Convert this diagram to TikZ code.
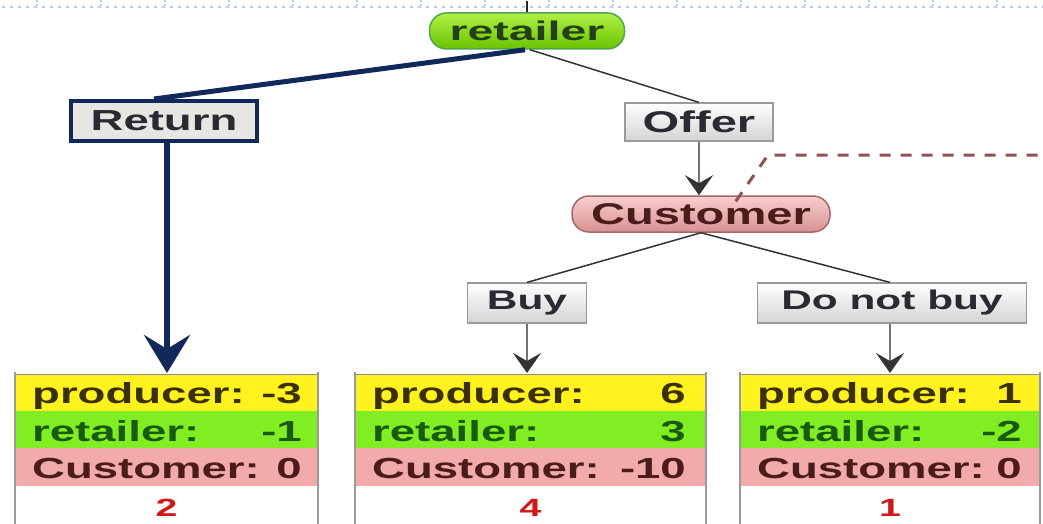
\documentclass[tikz,border=0pt]{standalone}
\usepackage{fontspec}
\usetikzlibrary{arrows.meta,calc}
\newfontfamily\wf[FakeStretch=1.57]{Liberation Sans}
\newfontfamily\wg[FakeStretch=1.72]{Liberation Sans}
\definecolor{navy}{HTML}{10295A}
\definecolor{ylw}{HTML}{FFF21E}
\definecolor{grn}{HTML}{80EE22}
\definecolor{pnk}{HTML}{F2AAAA}
\definecolor{ptxt}{HTML}{3B3000}
\definecolor{rtxt}{HTML}{185A10}
\definecolor{ctxt}{HTML}{4A1C1C}
\definecolor{numred}{HTML}{D01818}
\definecolor{boxbd}{HTML}{9A9A9A}
\definecolor{dotc}{HTML}{B8C8F0}
\definecolor{dashc}{HTML}{8E5252}
\definecolor{lbltxt}{HTML}{2A2A32}
\tikzset{
  lbl/.style={inner sep=0pt, font=\wf\bfseries\fontsize{29}{32}\selectfont},
  num/.style={inner sep=0pt, text=numred, font=\wf\bfseries\fontsize{25}{28}\selectfont},
  actbox/.style={draw=boxbd, line width=1.2pt, top color=white, bottom color=black!17,
    inner sep=0pt, text=lbltxt},
  pill/.style={rounded corners=17pt, line width=1.5pt, inner sep=0pt},
  thin/.style={draw=black!80, line width=1.5pt},
  garrow/.style={draw=black!55, line width=2.5pt,
    -{Stealth[length=20pt,width=28pt,inset=8pt,color=black!80]}},
}
\newcommand\payoff[8]{%
  \fill[ylw] (#2,374) rectangle (#3,411);
  \fill[grn] (#2,411) rectangle (#3,448);
  \fill[pnk] (#2,448) rectangle (#3,486);
  \draw[black!45, line width=1pt] (#2,374) -- (#3,374);
  \draw[boxbd, line width=1.6pt] (#2,372) -- (#2,524);
  \draw[boxbd, line width=1.6pt] (#3,372) -- (#3,524);
  \coordinate (#1) at ({(#2+#3)/2},373);
  \node[lbl, text=ptxt, anchor=base west] (#1pl) at (#2+17,403) {producer:};
  \node[lbl, text=ptxt, anchor=base east] (#1pv) at (#3-#8,403) {#4};
  \node[lbl, text=rtxt, anchor=base west] (#1rl) at (#2+17,441) {retailer:};
  \node[lbl, text=rtxt, anchor=base east] (#1rv) at (#3-#8,441) {#5};
  \node[lbl, text=ctxt, anchor=base west] (#1cl) at (#2+17,478) {Customer:};
  \node[lbl, text=ctxt, anchor=base east] (#1cv) at (#3-#8,478) {#6};
  \node[num, anchor=base] (#1n) at ({(#2+#3)/2},516) {#7};
}
\begin{document}
\begin{tikzpicture}[x=1pt,y=-1pt]
\useasboundingbox (0,0) rectangle (1043,524);
\fill[white] (0,0) rectangle (1043,524);
% top dotted border
\draw[dotc, line width=2.5pt, dash pattern=on 2.5pt off 5.5pt] (2,7) -- (1043,7);
\foreach \x in {37,101,165,229,293,357,421,485,549,613,677,741,805,869,933,997}
  \draw[dotc, line width=1.5pt, dash pattern=on 2pt off 2pt] (\x,0) -- (\x,7);

% nodes
\node[pill, draw=green!50!black!70, top color={rgb,255:red,176;green,240;blue,70},
  bottom color={rgb,255:red,104;green,196;blue,0},
  minimum width=195pt, minimum height=36pt, text={rgb,255:red,36;green,64;blue,24},
  font=\wg\bfseries\fontsize{27}{30}\selectfont] (retailer) at (527,31) {retailer};
\coordinate (rtop) at (527,1);
\node[pill, draw={rgb,255:red,160;green,104;blue,104}, top color={rgb,255:red,248;green,206;blue,206},
  bottom color={rgb,255:red,216;green,146;blue,146},
  minimum width=258pt, minimum height=36pt, text=ctxt,
  font=\wf\bfseries\fontsize{30}{32}\selectfont] (customer) at (701,214) {Customer};

\node[draw=navy, line width=4pt, fill={rgb,255:red,232;green,230;blue,226}, inner sep=0pt,
  minimum width=186pt, minimum height=40pt, text=lbltxt,
  font=\wf\bfseries\fontsize{29}{32}\selectfont] (return) at (164,121) {Return};
\node[actbox, minimum width=148pt, minimum height=38pt,
  font=\wf\bfseries\fontsize{30}{32}\selectfont] (offer) at (699,122) {Offer};
\node[actbox, minimum width=119pt, minimum height=40pt,
  font=\wf\bfseries\fontsize{27}{30}\selectfont] (buy) at (527,303) {Buy};
\node[actbox, minimum width=269pt, minimum height=40pt,
  font=\wf\bfseries\fontsize{27}{30}\selectfont] (dnb) at (892,303) {Do not buy};

% payoff tables
\payoff{tA}{15}{318}{-3}{-1}{0}{2}{16}
\payoff{tB}{355}{706}{6}{3}{-10}{4}{20}
\payoff{tC}{740}{1040}{1}{-2}{0}{1}{18}

% connectors
\draw[black!85, line width=2pt] (rtop) -- (retailer.north);
\draw[navy, line width=5pt] ([xshift=-2pt]retailer.south) -- ([xshift=-10pt]return.north);
\draw[navy, line width=6pt, -{Stealth[length=38pt,width=46pt,inset=14pt]}]
  ([xshift=3pt]return.south) -- ([xshift=3pt]return.south |- tA);
\draw[thin] ([xshift=3pt]retailer.south) -- (offer.north);
\draw[garrow] (offer.south) -- (offer.south |- customer.north);
\coordinate (dk) at (768,155);
\coordinate (dashend) at (1043,155);
\draw[dashc, line width=3pt, dash pattern=on 11pt off 10pt]
  ([xshift=-95pt,yshift=-6pt]customer.north east) -- (dk) -- (dashend);
\draw[thin] (customer.south) -- (buy.north);
\draw[thin] (customer.south) -- ([xshift=-2pt]dnb.north);
\draw[garrow] (buy.south) -- (buy.south |- tB);
\draw[garrow] ([xshift=-2pt]dnb.south) -- ([xshift=-2pt]dnb.south |- tC);
\end{tikzpicture}
\end{document}
